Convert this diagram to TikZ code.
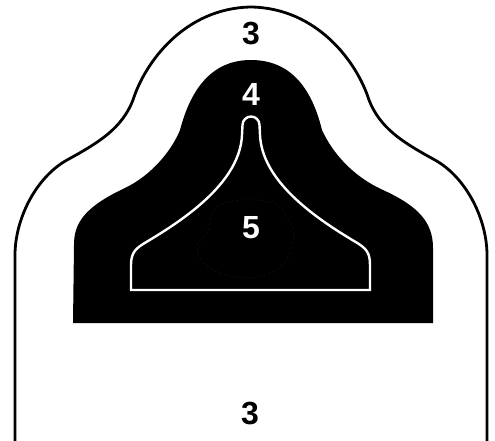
\documentclass[tikz,border=0pt]{standalone}
\usepackage{fontspec}
\setmainfont{Liberation Sans}
\usepackage{tikz}
\usetikzlibrary{positioning}
\tikzset{%
  % zones
  outline/.style={draw=black, line width=2.8pt, fill=white},
  blackzone/.style={fill=black, draw=none},
  innerline/.style={draw=white, line width=2.4pt},
  faintring/.style={draw={rgb,255:red,16;green,16;blue,16}, line width=0.6pt, densely dashed},
  % labels
  score/.style={font=\fontsize{32}{32}\selectfont\bfseries, inner sep=0pt, anchor=center},
  scoreblack/.style={score, text=black},
  scorewhite/.style={score, text=white},
}

\begin{document}
\begin{tikzpicture}[x=1pt, y=-1pt]
  \useasboundingbox (0,0) rectangle (495,440);
  \clip (0,0) rectangle (495,440);
  \fill[white] (0,0) rectangle (495,440);

  % Outer silhouette (zone 3)
  \path[outline] (15,446) -- (15,255)
    .. controls (15,220) and (35,178) .. (67,160)
    .. controls (100,142) and (122,128) .. (133,100)
    .. controls (145,62) and (185,8) .. (251,7)
    .. controls (317,8) and (357,62) .. (369,100)
    .. controls (380,128) and (402,142) .. (435,160)
    .. controls (467,178) and (487,220) .. (487,255)
    -- (487,446);

  % Black zone (4)
  \path[blackzone] (73,323) -- (74,245)
    .. controls (74,225) and (82,208) .. (125,188)
    .. controls (152,175) and (172,150) .. (180,130)
    .. controls (188,100) and (205,60) .. (251,60)
    .. controls (297,60) and (314,98) .. (322,130)
    .. controls (332,152) and (352,176) .. (383,190)
    .. controls (418,206) and (433,222) .. (433,248)
    -- (433,323) -- cycle;

  % Faint ring round the 5
  \draw[faintring] plot[smooth cycle, tension=0.7] coordinates {
    (220,205) (270,202) (290,223) (293,240) (280,267)
    (247,278) (210,268) (197,247) (207,233) };

  % Inner outline (zone 5)
  \path[innerline] (131,290) -- (131,265)
    .. controls (131,252) and (136,248) .. (148,241)
    .. controls (190,216) and (240,180) .. (242,135)
    -- (242.5,125) arc[start angle=180, end angle=360, radius=8.5]
    -- (260,135)
    .. controls (262,180) and (312,216) .. (354,241)
    .. controls (366,248) and (370,252) .. (370,265)
    -- (370,290) -- cycle;

  % Labels
  \node[scoreblack] (lbltop) at (251,34) {3};
  \node[scorewhite] (lblfour) at (251,94) {4};
  \node[scorewhite] (lblfive) at (251,228) {5};
  \node[scoreblack] (lblbottom) at (250,413) {3};
\end{tikzpicture}
\end{document}
